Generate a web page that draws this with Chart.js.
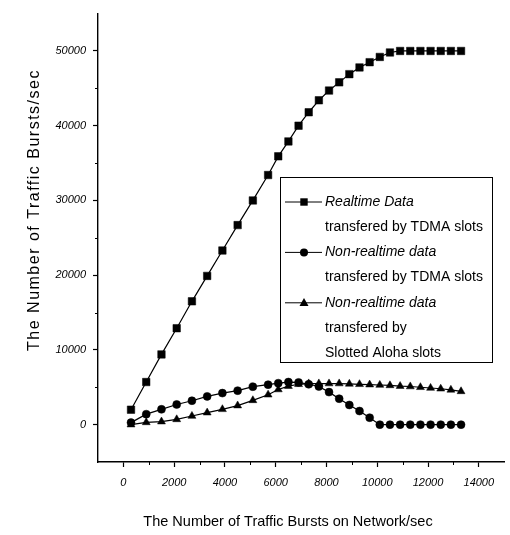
<!DOCTYPE html>
<html><head><meta charset="utf-8">
<script src="https://cdn.jsdelivr.net/npm/chart.js@4.4.1/dist/chart.umd.min.js"></script>
<style>html,body{margin:0;padding:0;background:#fff}#wrap{width:510px;height:535px}</style>
</head><body><div id="wrap"><canvas id="c" width="510" height="535"></canvas></div>
<script>
const xValues = [300, 900, 1500, 2100, 2700, 3300, 3900, 4500, 5100, 5700, 6100, 6500, 6900, 7300, 7700, 8100, 8500, 8900, 9300, 9700, 10100, 10500, 10900, 11300, 11700, 12100, 12500, 12900, 13300];
const realtimeTDMA = [2000, 5700, 9400, 12900, 16500, 19900, 23300, 26700, 30000, 33400, 35900, 37900, 40000, 41800, 43400, 44700, 45800, 46900, 47800, 48500, 49200, 49800, 50000, 50000, 50000, 50000, 50000, 50000, 50000];
const nonRealtimeTDMA = [270, 1400, 2050, 2700, 3200, 3780, 4220, 4550, 5080, 5350, 5550, 5700, 5650, 5400, 5100, 4350, 3470, 2630, 1820, 930, 0, 0, 0, 0, 0, 0, 0, 0, 0];
const nonRealtimeAloha = [0, 300, 400, 700, 1150, 1600, 2050, 2550, 3250, 4000, 4700, 5150, 5400, 5500, 5500, 5500, 5500, 5450, 5400, 5350, 5300, 5250, 5150, 5100, 5000, 4900, 4800, 4650, 4450];
const xTickValues = [0, 2000, 4000, 6000, 8000, 10000, 12000, 14000];
const yTickValues = [0, 10000, 20000, 30000, 40000, 50000];
const xMinorTicks = [1000, 3000, 5000, 7000, 9000, 11000, 13000];
const yMinorTicks = [5000, 15000, 25000, 35000, 45000];
const seriesNames = [
  ['Realtime Data', 'transfered by TDMA slots'],
  ['Non-realtime data', 'transfered by TDMA slots'],
  ['Non-realtime data', 'transfered by', 'Slotted Aloha slots']
];
const seriesMarkers = ['rect', 'circle', 'triangle'];
const xTitle = 'The Number of Traffic Bursts on Network/sec';
const yTitle = 'The Number of Traffic Bursts/sec';

const FONT = '"Liberation Sans", Arial, Helvetica, sans-serif';

function toPoints(ys) { return xValues.map((x, i) => ({ x: x, y: ys[i] })); }

function drawMarker(ctx, style, x, y) {
  ctx.beginPath();
  if (style === 'rect') {
    ctx.rect(x - 3.7, y - 3.7, 7.4, 7.4);
  } else if (style === 'circle') {
    ctx.arc(x, y, 4, 0, Math.PI * 2);
  } else {
    ctx.moveTo(x, y - 4.7);
    ctx.lineTo(x + 4.5, y + 3.3);
    ctx.lineTo(x - 4.5, y + 3.3);
    ctx.closePath();
  }
  ctx.fill();
}

const extrasPlugin = {
  id: 'extras',
  afterDraw(chart) {
    const ctx = chart.ctx;
    const xs = chart.scales.x, ys = chart.scales.y;
    const area = chart.chartArea;
    ctx.save();
    ctx.strokeStyle = '#000';
    ctx.lineWidth = 1;
    ctx.beginPath();
    xMinorTicks.forEach(v => {
      const px = Math.round(xs.getPixelForValue(v)) + 0.5;
      ctx.moveTo(px, area.bottom); ctx.lineTo(px, area.bottom + 3);
    });
    yMinorTicks.forEach(v => {
      const py = Math.round(ys.getPixelForValue(v)) + 0.5;
      ctx.moveTo(area.left, py); ctx.lineTo(area.left - 3, py);
    });
    ctx.stroke();

    ctx.fillStyle = '#000';
    ctx.textAlign = 'center';
    ctx.textBaseline = 'middle';
    ctx.font = '14.5px ' + FONT;
    ctx.fillText(xTitle, 288, 522);
    ctx.save();
    ctx.translate(35, 210);
    ctx.rotate(-Math.PI / 2);
    ctx.font = '16px ' + FONT;
    try { ctx.letterSpacing = '1.5px'; } catch (e) {}
    ctx.fillText(yTitle, 0, 0);
    ctx.restore();

    ctx.lineWidth = 1;
    ctx.strokeRect(280.5, 177.5, 212, 185);
    let rowY = 202;
    const step = 25.2;
    seriesNames.forEach((lines, i) => {
      ctx.beginPath();
      ctx.moveTo(285, rowY); ctx.lineTo(322, rowY);
      ctx.stroke();
      drawMarker(ctx, seriesMarkers[i], 304, rowY);
      ctx.textAlign = 'left';
      lines.forEach((t, j) => {
        ctx.font = (j === 0 ? 'italic ' : '') + '14px ' + FONT;
        ctx.fillText(t, 325, rowY);
        rowY += step;
      });
    });
    ctx.restore();
  }
};

function ds(label, data, style, r) {
  return {
    label: label,
    data: toPoints(data),
    borderColor: '#000',
    backgroundColor: '#000',
    borderWidth: 1.2,
    pointStyle: style,
    pointRadius: r,
    pointHoverRadius: r,
    pointBackgroundColor: '#000',
    pointBorderColor: '#000',
    pointBorderWidth: 0.5,
    tension: 0,
    fill: false
  };
}

new Chart(document.getElementById('c'), {
  type: 'line',
  data: {
    datasets: [
      ds(seriesNames[0].join(' '), realtimeTDMA, 'rect', 5.3),
      ds(seriesNames[1].join(' '), nonRealtimeTDMA, 'circle', 4),
      ds(seriesNames[2].join(' '), nonRealtimeAloha, 'triangle', 4.6)
    ]
  },
  options: {
    responsive: false,
    animation: false,
    devicePixelRatio: 1,
    layout: { padding: { top: 8, right: 3, left: 0, bottom: 0 } },
    plugins: { legend: { display: false }, tooltip: { enabled: false }, title: { display: false } },
    scales: {
      x: {
        type: 'linear',
        min: -1000, max: 15000,
        afterBuildTicks: s => { s.ticks = xTickValues.map(v => ({ value: v })); },
        afterFit: s => { s.height = 73; },
        grid: { drawOnChartArea: false, drawTicks: true, tickLength: 5, tickColor: '#000', color: '#000', tickWidth: 1.2 },
        border: { display: true, color: '#000', width: 1.4 },
        ticks: { color: '#000', font: { family: FONT, size: 11, style: 'italic' }, padding: 9, maxRotation: 0, autoSkip: false, callback: v => String(v) },
        title: { display: false }
      },
      y: {
        type: 'linear',
        min: -5000, max: 55000,
        afterBuildTicks: s => { s.ticks = yTickValues.map(v => ({ value: v })); },
        afterFit: s => { s.width = 98; },
        grid: { drawOnChartArea: false, drawTicks: true, tickLength: 5, tickColor: '#000', color: '#000', tickWidth: 1.2 },
        border: { display: true, color: '#000', width: 1.4 },
        ticks: { color: '#000', font: { family: FONT, size: 11, style: 'italic' }, padding: 7, autoSkip: false, callback: v => String(v) },
        title: { display: false }
      }
    }
  },
  plugins: [extrasPlugin]
});
</script>
</body></html>
